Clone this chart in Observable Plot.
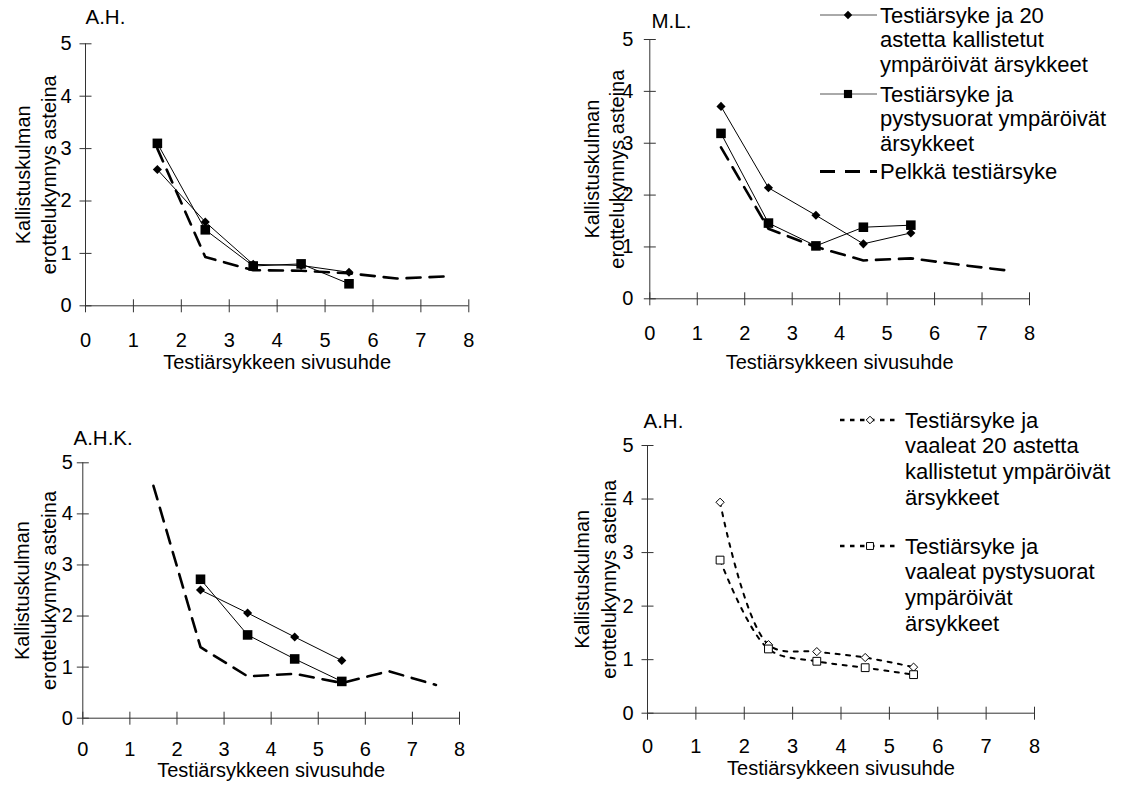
<!DOCTYPE html>
<html>
<head>
<meta charset="utf-8">
<script src="https://cdn.jsdelivr.net/npm/d3@7"></script>
<script src="https://cdn.jsdelivr.net/npm/@observablehq/plot@0.6"></script>
<style>
  body { margin: 0; background: #fff; }
  #chart { position: relative; width: 1124px; height: 785px; background: #fff; overflow: hidden; }
</style>
</head>
<body>
<div id="chart"></div>
<script>
// ---------- data ----------
const subjects = ["A.H.", "M.L.", "A.H.K.", "A.H."];
const xTicks = [0, 1, 2, 3, 4, 5, 6, 7, 8];
const yTicks = [0, 1, 2, 3, 4, 5];
const xLabel = "Testiärsykkeen sivusuhde";
const yLabel = "Kallistuskulman\nerottelukynnys asteina";

const seriesTop = [
  "Testiärsyke ja 20\nastetta kallistetut\nympäröivät ärsykkeet",
  "Testiärsyke ja\npystysuorat ympäröivät\närsykkeet",
  "Pelkkä testiärsyke"
];
const seriesLight = [
  "Testiärsyke ja\nvaaleat 20 astetta\nkallistetut ympäröivät\närsykkeet",
  "Testiärsyke ja\nvaaleat pystysuorat\nympäröivät\närsykkeet"
];

const xSurround = [1.5, 2.5, 3.5, 4.5, 5.5];
const xSurroundAHK = [2.5, 3.5, 4.5, 5.5];
const xAlone = [1.5, 2.5, 3.5, 4.5, 5.5, 6.5, 7.5];

// A.H.
const ahTilted   = [2.6, 1.6, 0.79, 0.77, 0.64];
const ahVertical = [3.1, 1.45, 0.76, 0.8, 0.42];
const ahAlone    = [3.0, 0.93, 0.68, 0.67, 0.62, 0.52, 0.56];
// M.L.
const mlTilted   = [3.71, 2.14, 1.61, 1.06, 1.27];
const mlVertical = [3.19, 1.46, 1.02, 1.38, 1.42];
const mlAlone    = [2.92, 1.35, 1.0, 0.74, 0.78, 0.66, 0.55];
// A.H.K.
const ahkTilted   = [2.51, 2.06, 1.59, 1.13];
const ahkVertical = [2.72, 1.63, 1.16, 0.72];
const ahkAlone    = [4.55, 1.39, 0.82, 0.87, 0.69, 0.92, 0.65];
// A.H. (light surround)
const ahLightTilted   = [3.94, 1.28, 1.15, 1.04, 0.86];
const ahLightVertical = [2.86, 1.2, 0.97, 0.85, 0.72];

// ---------- helpers ----------
const FONT = '"Liberation Sans", Arial, Helvetica, sans-serif';
const FS = 20;
const LFS = 22;
const AXIS = "#333";

const rows = (xs, ys) => xs.map((x, i) => ({x, y: ys[i]}));
const vTick = {draw(ctx, size) { const r = Math.sqrt(size / Math.PI); ctx.moveTo(0, -r); ctx.lineTo(0, r); }};
const hTick = {draw(ctx, size) { const r = Math.sqrt(size / Math.PI); ctx.moveTo(-r, 0); ctx.lineTo(r, 0); }};

function baseMarks(c) {
  return [
    Plot.ruleY([0], {stroke: AXIS, strokeWidth: 1}),
    Plot.ruleX([0], {stroke: AXIS, strokeWidth: 1}),
    Plot.dot(xTicks, {x: d => d, y: () => 0, symbol: vTick, r: 6.5, fill: "none", stroke: AXIS, strokeWidth: 1}),
    Plot.dot(yTicks, {x: () => 0, y: d => d, symbol: hTick, r: 6, fill: "none", stroke: AXIS, strokeWidth: 1}),
    Plot.axisX({ticks: xTicks, tickSize: 0, tickPadding: c.xTickPad, fontSize: FS, label: null, fill: "black", tickFormat: d => String(d)}),
    Plot.axisY({ticks: yTicks, tickSize: 0, tickPadding: c.yTickPad, fontSize: FS, label: null, fill: "black", tickFormat: d => String(d)}),
    Plot.text([c.title], {text: d => d, frameAnchor: "top-left", dx: c.titleDx, dy: c.titleDy, textAnchor: "start", lineAnchor: "middle", fontSize: FS + 0.5, fill: "black"}),
    Plot.text([yLabel], {text: d => d, frameAnchor: "left", rotate: -90, dx: c.yLabelDx, textAnchor: "middle", lineAnchor: "middle", lineHeight: c.yLabelLH, fontSize: FS, fill: "black"}),
    Plot.text([xLabel], {text: d => d, frameAnchor: "bottom", dy: c.xLabelDy, textAnchor: "middle", lineAnchor: "middle", fontSize: FS, fill: "black"})
  ];
}

function makePanel(c, dataMarks) {
  const svg = Plot.plot({
    width: c.width, height: c.height,
    marginLeft: c.ml, marginRight: c.mr, marginTop: c.mt, marginBottom: c.mb,
    x: {domain: [0, 8]},
    y: {domain: [0, 5]},
    style: {fontFamily: FONT, fontSize: FS + "px", background: "transparent", overflow: "visible", color: "black"},
    marks: [...baseMarks(c), ...dataMarks]
  });
  svg.style.position = "absolute";
  svg.style.left = c.left + "px";
  svg.style.top = c.top + "px";
  svg.style.maxWidth = "none";
  document.getElementById("chart").appendChild(svg);
  return svg;
}

function solidSeries(xs, ys, symbol, r) {
  const data = rows(xs, ys);
  return [
    Plot.line(data, {x: "x", y: "y", stroke: "black", strokeWidth: 1}),
    Plot.dot(data, {x: "x", y: "y", symbol, r, fill: "black", stroke: "none"})
  ];
}
function dashedSeries(xs, ys) {
  return [Plot.line(rows(xs, ys), {x: "x", y: "y", stroke: "black", strokeWidth: 2.6, strokeDasharray: "14,9"})];
}
function dottedSeries(xs, ys, symbol, r) {
  const data = rows(xs, ys);
  return [
    Plot.line(data, {x: "x", y: "y", curve: "catmull-rom", stroke: "black", strokeWidth: 2, strokeDasharray: "4,6.5"}),
    Plot.dot(data, {x: "x", y: "y", symbol, r, fill: "white", stroke: "black", strokeWidth: 1})
  ];
}

function drawLegend(svg, spec) {
  const g = d3.select(svg).append("g")
    .attr("font-family", FONT).attr("font-size", LFS).attr("fill", "black")
    .attr("text-anchor", "start");
  spec.entries.forEach(e => {
    g.append("line")
      .attr("x1", spec.x1).attr("x2", spec.x2).attr("y1", e.y).attr("y2", e.y)
      .attr("stroke", e.lineColor || "black").attr("stroke-width", e.strokeWidth)
      .attr("stroke-dasharray", e.dash || null);
    if (e.symbol) {
      g.append("path")
        .attr("d", d3.symbol(e.symbol, Math.PI * e.r * e.r)())
        .attr("transform", `translate(${spec.xm},${e.y})`)
        .attr("fill", e.fill).attr("stroke", e.stroke || "none").attr("stroke-width", 1);
    }
    const t = g.append("text").attr("x", spec.xt).attr("y", e.y).attr("text-anchor", "start");
    e.label.split("\n").forEach((s, i) => {
      t.append("tspan").attr("x", spec.xt).attr("dy", i === 0 ? "0.35em" : spec.lh).text(s);
    });
  });
}

// ---------- panels ----------
const p1 = {left: 0, top: 0, width: 562, height: 392, ml: 85, mr: 93.7, mt: 43.3, mb: 86.7,
  title: subjects[0], titleDx: 0, titleDy: -26.3, yLabelDx: -51, yLabelLH: 1.3,
  xLabelDy: 56.7, xTickPad: 26.7, yTickPad: 14};
makePanel(p1, [
  ...dashedSeries(xAlone, ahAlone),
  ...solidSeries(xSurround, ahVertical, "square", 5.4),
  ...solidSeries(xSurround, ahTilted, "diamond2", 4.1)
]);

const p2 = {left: 562, top: 0, width: 562, height: 392, ml: 87.3, mr: 95, mt: 39, mb: 93.7,
  title: subjects[1], titleDx: 1.7, titleDy: -18, yLabelDx: -46.8, yLabelLH: 1.25,
  xLabelDy: 63.7, xTickPad: 26.7, yTickPad: 16.5};
const svg2 = makePanel(p2, [
  ...dashedSeries(xAlone, mlAlone),
  ...solidSeries(xSurround, mlVertical, "square", 5.4),
  ...solidSeries(xSurround, mlTilted, "diamond2", 4.1)
]);
drawLegend(svg2, {x1: 258, x2: 315, xm: 286, xt: 318, lh: 24.5,
  entries: [
    {y: 15, label: seriesTop[0], strokeWidth: 1, lineColor: "#555", symbol: d3.symbolDiamond2, r: 3.8, fill: "black"},
    {y: 94, label: seriesTop[1], strokeWidth: 1, lineColor: "#555", symbol: d3.symbolSquare, r: 4.6, fill: "black"},
    {y: 171.5, label: seriesTop[2], strokeWidth: 3, dash: "15,10"}
  ]});

const p3 = {left: 0, top: 392, width: 562, height: 393, ml: 82.3, mr: 103, mt: 70.3, mb: 67.3,
  title: subjects[2], titleDx: -9.3, titleDy: -24.3, yLabelDx: -48.8, yLabelLH: 1.35,
  xLabelDy: 52.3, xTickPad: 23.3, yTickPad: 10};
makePanel(p3, [
  ...dashedSeries(xAlone, ahkAlone),
  ...solidSeries(xSurroundAHK, ahkVertical, "square", 5.4),
  ...solidSeries(xSurroundAHK, ahkTilted, "diamond2", 4.1)
]);

const p4 = {left: 562, top: 392, width: 562, height: 393, ml: 85, mr: 90, mt: 53, mb: 72.3,
  title: subjects[3], titleDx: -4, titleDy: -24, yLabelDx: -53.5, yLabelLH: 1.35,
  xLabelDy: 55.3, xTickPad: 25.3, yTickPad: 14};
const svg4 = makePanel(p4, [
  ...dottedSeries(xSurround, ahLightTilted, "diamond2", 3.7),
  ...dottedSeries(xSurround, ahLightVertical, "square", 4.4)
]);
drawLegend(svg4, {x1: 278, x2: 338, xm: 308, xt: 343, lh: 25.7,
  entries: [
    {y: 28, label: seriesLight[0], strokeWidth: 2.6, dash: "4.5,5.5", symbol: d3.symbolDiamond2, r: 3.4, fill: "white", stroke: "black"},
    {y: 154, label: seriesLight[1], strokeWidth: 2.6, dash: "4.5,5.5", symbol: d3.symbolSquare, r: 3.9, fill: "white", stroke: "black"}
  ]});
</script>
</body>
</html>
